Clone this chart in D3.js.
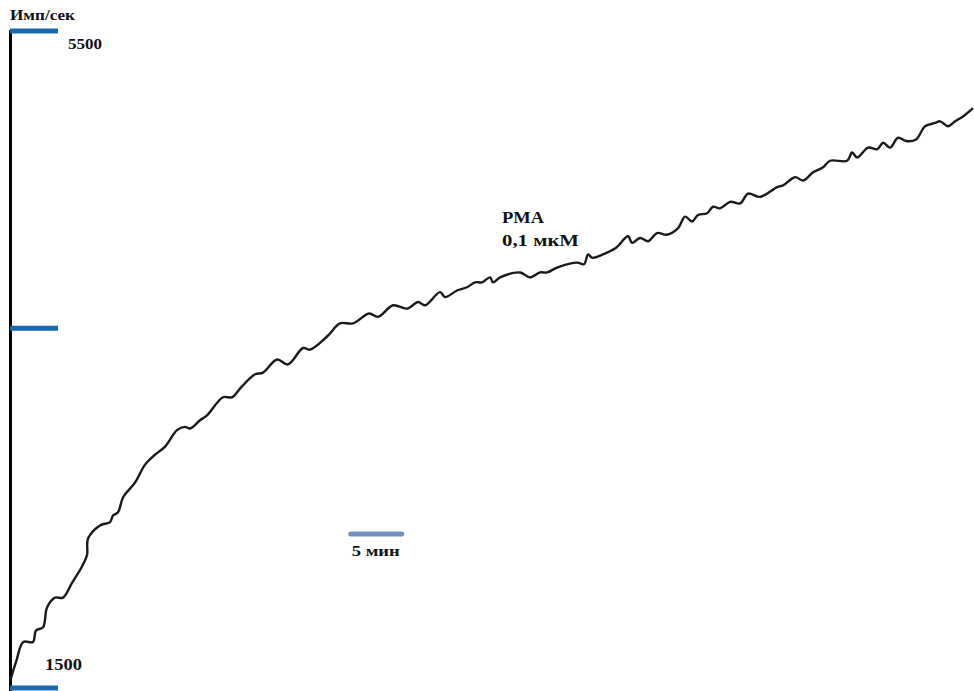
<!DOCTYPE html>
<html><head><meta charset="utf-8">
<script src="https://cdn.jsdelivr.net/npm/d3@7"></script>
<style>body{margin:0;background:#fff}svg{display:block}</style>
</head><body>
<svg id="c" width="974" height="691"></svg>
<script>
// time, minutes
const times = [0.0,0.6,1.3,2.25,2.55,3.24,3.63,4.41,5.2,6.08,7.06,7.55,7.65,8.82,9.8,10.1,10.59,11.08,12.25,13.24,14.2,15.2,16.37,17.16,17.65,18.63,19.31,20.88,21.76,22.65,24.02,24.8,26.18,27.25,28.73,29.41,31.08,32.35,33.63,35.2,36.08,37.55,38.92,40.0,40.69,42.16,42.65,43.82,44.8,45.59,46.27,47.06,47.35,48.04,50.0,50.98,51.96,52.65,53.63,55.59,56.27,56.67,57.06,58.14,59.41,60.59,60.98,61.76,62.55,63.43,64.41,65.49,66.18,66.86,67.45,68.33,68.92,69.61,70.59,71.57,72.35,73.53,75.2,75.78,76.96,77.75,78.73,79.71,80.39,82.06,82.55,83.04,84.12,85.0,85.59,86.27,87.06,87.84,88.82,89.71,90.69,91.18,91.96,92.65,93.43,94.41];
// counts, imp/sec
const counts = [1540,1660,1780,1780,1850,1870,1990,2050,2050,2140,2240,2310,2410,2490,2510,2550,2570,2660,2750,2860,2920,2970,3070,3090,3080,3130,3160,3270,3270,3330,3410,3420,3500,3470,3570,3560,3640,3720,3720,3780,3760,3830,3810,3850,3830,3910,3880,3920,3940,3970,3970,4000,3970,4000,4030,4000,4030,4030,4060,4090,4080,4140,4120,4140,4180,4250,4210,4240,4220,4270,4260,4300,4370,4340,4380,4390,4430,4420,4460,4450,4510,4490,4550,4560,4610,4590,4640,4670,4710,4710,4760,4730,4790,4780,4820,4790,4850,4830,4840,4920,4940,4950,4920,4950,4980,5030];
const tickValues = [1500, 3690, 5500];
const tickLabels = ["1500", "", "5500"];
const yTitle = "Имп/сек";
const scaleBarStart = 33.4, scaleBarLen = 5;
const scaleBarLabel = "5 мин";
const annotation = ["PMA", "0,1 мкМ"];

const svg = d3.select("#c");
const x = d3.scaleLinear().domain([0, 94.5]).range([10, 974]);
const y = d3.scaleLinear().domain([1500, 5500]).range([688, 31]);
const serif = "'Liberation Serif','Times New Roman',serif";

function label(txt, px, py, size, len) {
  svg.append("text").attr("x", px).attr("y", py)
    .attr("font-family", serif).attr("font-weight", "bold").attr("font-size", size)
    .attr("fill", "#111")
    .attr("textLength", len).attr("lengthAdjust", "spacingAndGlyphs")
    .text(txt);
}

// axis line
svg.append("line").attr("x1", 10.5).attr("x2", 10.5)
  .attr("y1", y(5500) - 1).attr("y2", 691)
  .attr("stroke", "#000").attr("stroke-width", 3);

// ticks
svg.selectAll("line.tick").data(tickValues).enter().append("line")
  .attr("class", "tick")
  .attr("x1", 10).attr("x2", 58)
  .attr("y1", d => y(d)).attr("y2", d => y(d))
  .attr("stroke", "#1b69b0").attr("stroke-width", 5);

// tick labels
label(tickLabels[2], 68, y(5500) + 18, 15, 34);
label(tickLabels[0], 45, y(1500) - 18, 17, 37);

// title
label(yTitle, 10, 20, 15, 65);

// line
const data = times.map((t, i) => [t, counts[i]]);
svg.append("path").datum(data)
  .attr("fill", "none").attr("stroke", "#1a1a1a").attr("stroke-width", 2.4)
  .attr("stroke-linejoin", "round")
  .attr("d", d3.line().x(d => x(d[0])).y(d => y(d[1])).curve(d3.curveCatmullRom.alpha(0.5)));

// scale bar
svg.append("line")
  .attr("x1", x(scaleBarStart)).attr("x2", x(scaleBarStart + scaleBarLen))
  .attr("y1", 534).attr("y2", 534)
  .attr("stroke", "#7090bf").attr("stroke-width", 5).attr("stroke-linecap", "round");
label(scaleBarLabel, x(scaleBarStart) + 1, 556, 15, 48);

// annotation
label(annotation[0], 502, 223, 16, 42);
label(annotation[1], 502, 246, 16, 77);
</script>
</body></html>
